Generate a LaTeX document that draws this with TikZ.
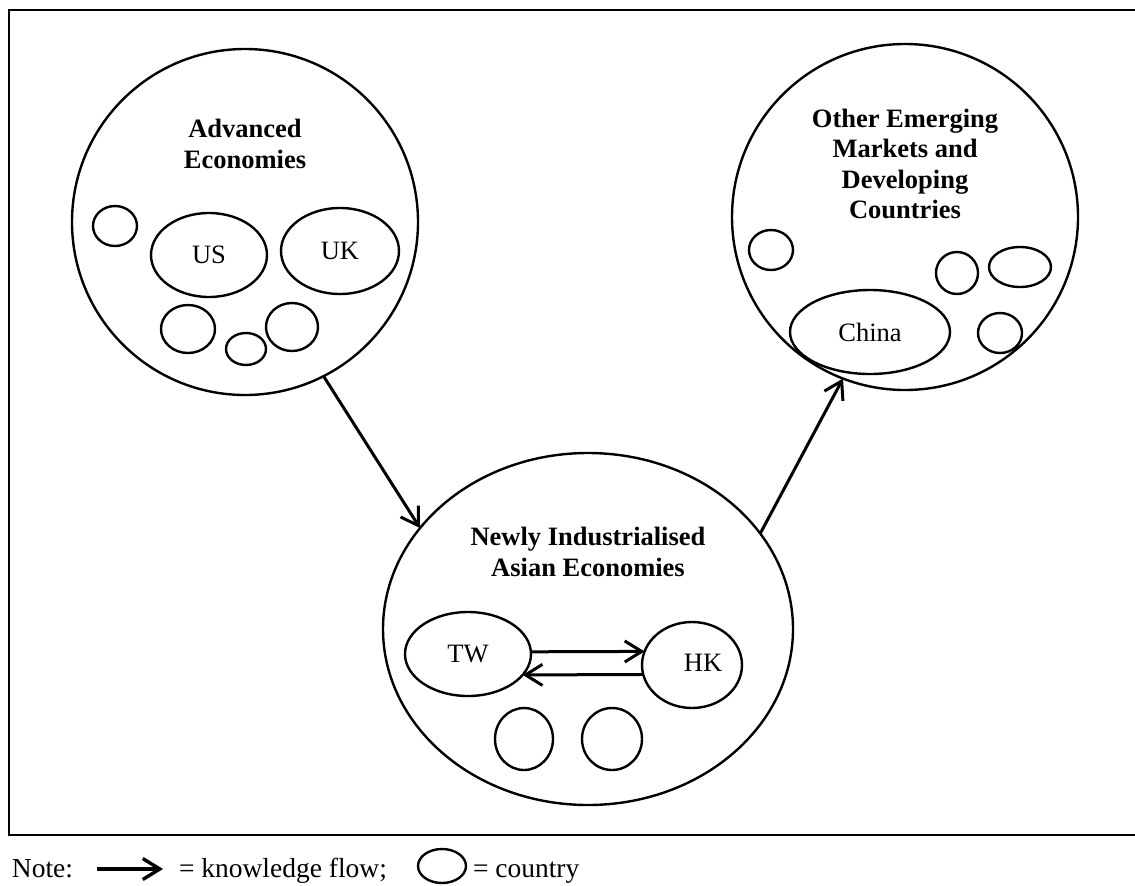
\documentclass[tikz,border=0pt]{standalone}
\usepackage{fontspec}
\setmainfont{Liberation Serif}
\usetikzlibrary{shapes.geometric,arrows.meta}
\begin{document}
\begin{tikzpicture}[x=1pt,y=-1pt,
  every node/.style={inner sep=0pt, outer sep=0pt},
  txt/.style={font=\fontsize{26.5}{31}\selectfont},
  legtxt/.style={font=\fontsize{27.5}{31}\selectfont},
  head/.style={font=\fontsize{26.5}{30.5}\selectfont\bfseries, align=center},
  group/.style={draw, ellipse, line width=2.4pt},
  country/.style={draw, ellipse, line width=2.4pt, font=\fontsize{26.5}{31}\selectfont},
  flow/.style={line width=3pt, -{Straight Barb[length=17pt,width=21pt]}},
]
\useasboundingbox (0,0) rectangle (1135,886);

% outer frame (open on the right)
\draw[line width=2.6pt] (1137,10) -- (9,10) -- (9,835) -- (1137,835);

% groups of economies
\node[group, minimum width=346pt, minimum height=346pt] (adv) at (245,222) {};
\node[group, minimum width=410pt, minimum height=352pt] (nie) at (588,629) {};
\node[group, minimum width=346pt, minimum height=346pt] (oth) at (905,217) {};

\node[head] (advt) at (245,144) {Advanced\\Economies};
\node[head] (niet) at (588,552) {Newly Industrialised\\Asian Economies};
\node[head] (otht) at (905,164) {Other Emerging\\Markets and\\Developing\\Countries};

% countries: advanced economies
\node[country, minimum width=44pt, minimum height=40pt] (a1) at (115,226) {};
\node[country, minimum width=116pt, minimum height=84pt] (us) at (209,255) {US};
\node[country, minimum width=118pt, minimum height=86pt] (uk) at (340,251) {UK};
\node[country, minimum width=54pt, minimum height=48pt] (a2) at (188,329) {};
\node[country, minimum width=40pt, minimum height=32pt] (a3) at (246,349) {};
\node[country, minimum width=52pt, minimum height=48pt] (a4) at (292,327) {};

% countries: newly industrialised Asian economies
\node[country, minimum width=126pt, minimum height=84pt] (tw) at (468,654) {TW};
\node[country, minimum width=100pt, minimum height=86pt] (hk) at (692,665) {};
\node[txt] (hkt) at (703,663) {HK};
\node[country, minimum width=58pt, minimum height=62pt] (n1) at (524,739) {};
\node[country, minimum width=60pt, minimum height=62pt] (n2) at (612,739) {};

% countries: other emerging markets
\node[country, minimum width=44pt, minimum height=40pt] (o1) at (771,250) {};
\node[country, minimum width=42pt, minimum height=42pt] (o2) at (957,273) {};
\node[country, minimum width=62pt, minimum height=40pt] (o3) at (1020,267) {};
\node[country, minimum width=160pt, minimum height=84pt] (cn) at (870,332) {China};
\node[country, minimum width=44pt, minimum height=40pt] (o4) at (1000,333) {};

% knowledge flows
\draw[flow] (adv.-63.4) -- (nie.149.8);
\draw[flow] (nie.29.9) -- (oth.249.5);
\draw[flow] (tw.2) -- (hk.164);
\draw[flow] (hk.-169) -- (tw.-21);

% legend
\node[legtxt, anchor=base west] (note) at (12,877) {Note:};
\coordinate (la) at (97,869);
\coordinate (lb) at (163,869);
\draw[flow, line width=3.4pt] (la) -- (lb);
\node[legtxt, anchor=base west] (lflow) at (179,877) {= knowledge flow;};
\node[country, minimum width=48pt, minimum height=34pt] (leg) at (442,866) {};
\node[legtxt, anchor=base west] (lcty) at (473,877) {= country};
\end{tikzpicture}
\end{document}
